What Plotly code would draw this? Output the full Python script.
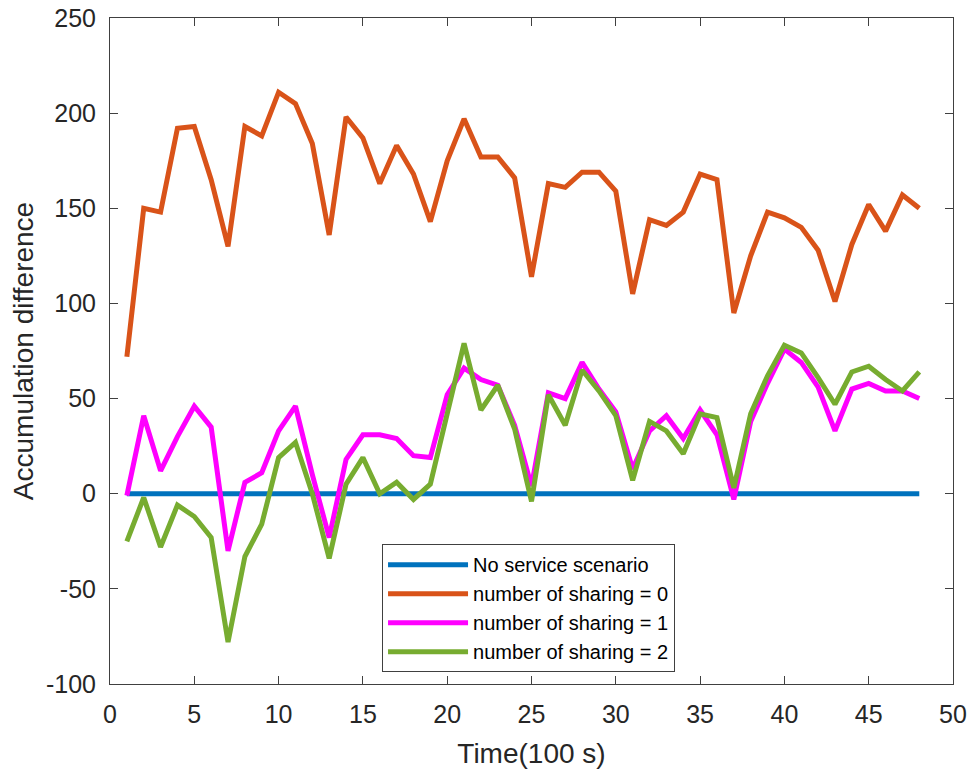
import plotly.graph_objects as go

time = list(range(1, 49))

no_service = [0] * 48

sharing_0 = [72, 150, 148, 192, 193, 165, 130, 193, 188, 211,
             205, 184, 136, 198, 187, 163, 183, 168, 143, 175,
             197, 177, 177, 166, 114, 163, 161, 169, 169, 159,
             105, 144, 141, 148, 168, 165, 95, 125, 148, 145,
             140, 128, 101, 131, 152, 138, 157, 150]

sharing_1 = [-1, 41, 12, 30, 46, 35, -30, 6, 11, 33,
             46, 10, -23, 18, 31, 31, 29, 20, 19, 52,
             66, 60, 57, 36, 4, 53, 50, 69, 55, 43,
             13, 33, 41, 29, 44, 31, -3, 38, 58, 76,
             69, 56, 33, 55, 58, 54, 54, 50]

sharing_2 = [-25, -2, -28, -6, -12, -23, -78, -33, -16, 19,
             27, 0, -34, 5, 19, 0, 6, -3, 5, 42,
             79, 44, 57, 34, -4, 52, 36, 65, 54, 41,
             7, 38, 33, 21, 42, 40, 3, 42, 62, 78,
             74, 61, 47, 64, 67, 60, 54, 64]

names = ["No service scenario", "number of sharing = 0",
         "number of sharing = 1", "number of sharing = 2"]
colors = ["#0072BD", "#D95319", "#FF00FF", "#77AC30"]

x_ticks = list(range(0, 51, 5))
y_ticks = list(range(-100, 251, 50))
y_tick_text = [str(v) for v in y_ticks]

fig = go.Figure()
for ys, name, c in zip([no_service, sharing_0, sharing_1, sharing_2], names, colors):
    fig.add_trace(go.Scatter(x=time, y=ys, mode="lines", name=name,
                             line=dict(color=c, width=5)))

axis_common = dict(
    showline=True, linecolor="#404040", linewidth=1, mirror="ticks",
    ticks="inside", ticklen=8, tickcolor="#404040", tickwidth=1,
    showgrid=False, zeroline=False, automargin=False,
    tickfont=dict(family="Liberation Sans, Arial, sans-serif", size=25, color="#262626"),
)

fig.update_layout(
    width=971, height=769,
    margin=dict(l=110, r=18, t=18, b=85),
    paper_bgcolor="white", plot_bgcolor="white",
    font=dict(family="Liberation Sans, Arial, sans-serif", color="#262626"),
    xaxis=dict(range=[0, 50], tickvals=x_ticks, ticklabelstandoff=8,
               title=dict(text="Time(100 s)", font=dict(size=28), standoff=17),
               **axis_common),
    yaxis=dict(range=[-100, 250], tickvals=y_ticks, ticktext=y_tick_text,
               ticklabelstandoff=8,
               title=dict(text="Accumulation difference", font=dict(size=28), standoff=4),
               **axis_common),
    legend=dict(x=0.3227, y=0.210, xanchor="left", yanchor="top",
                bordercolor="#404040", borderwidth=1, bgcolor="white",
                font=dict(size=20, color="#000000"), itemwidth=80,
                tracegroupgap=0),
    showlegend=True,
)

fig.write_html("out.html", config={"displayModeBar": False},
               post_script="document.body.style.margin='0';")
